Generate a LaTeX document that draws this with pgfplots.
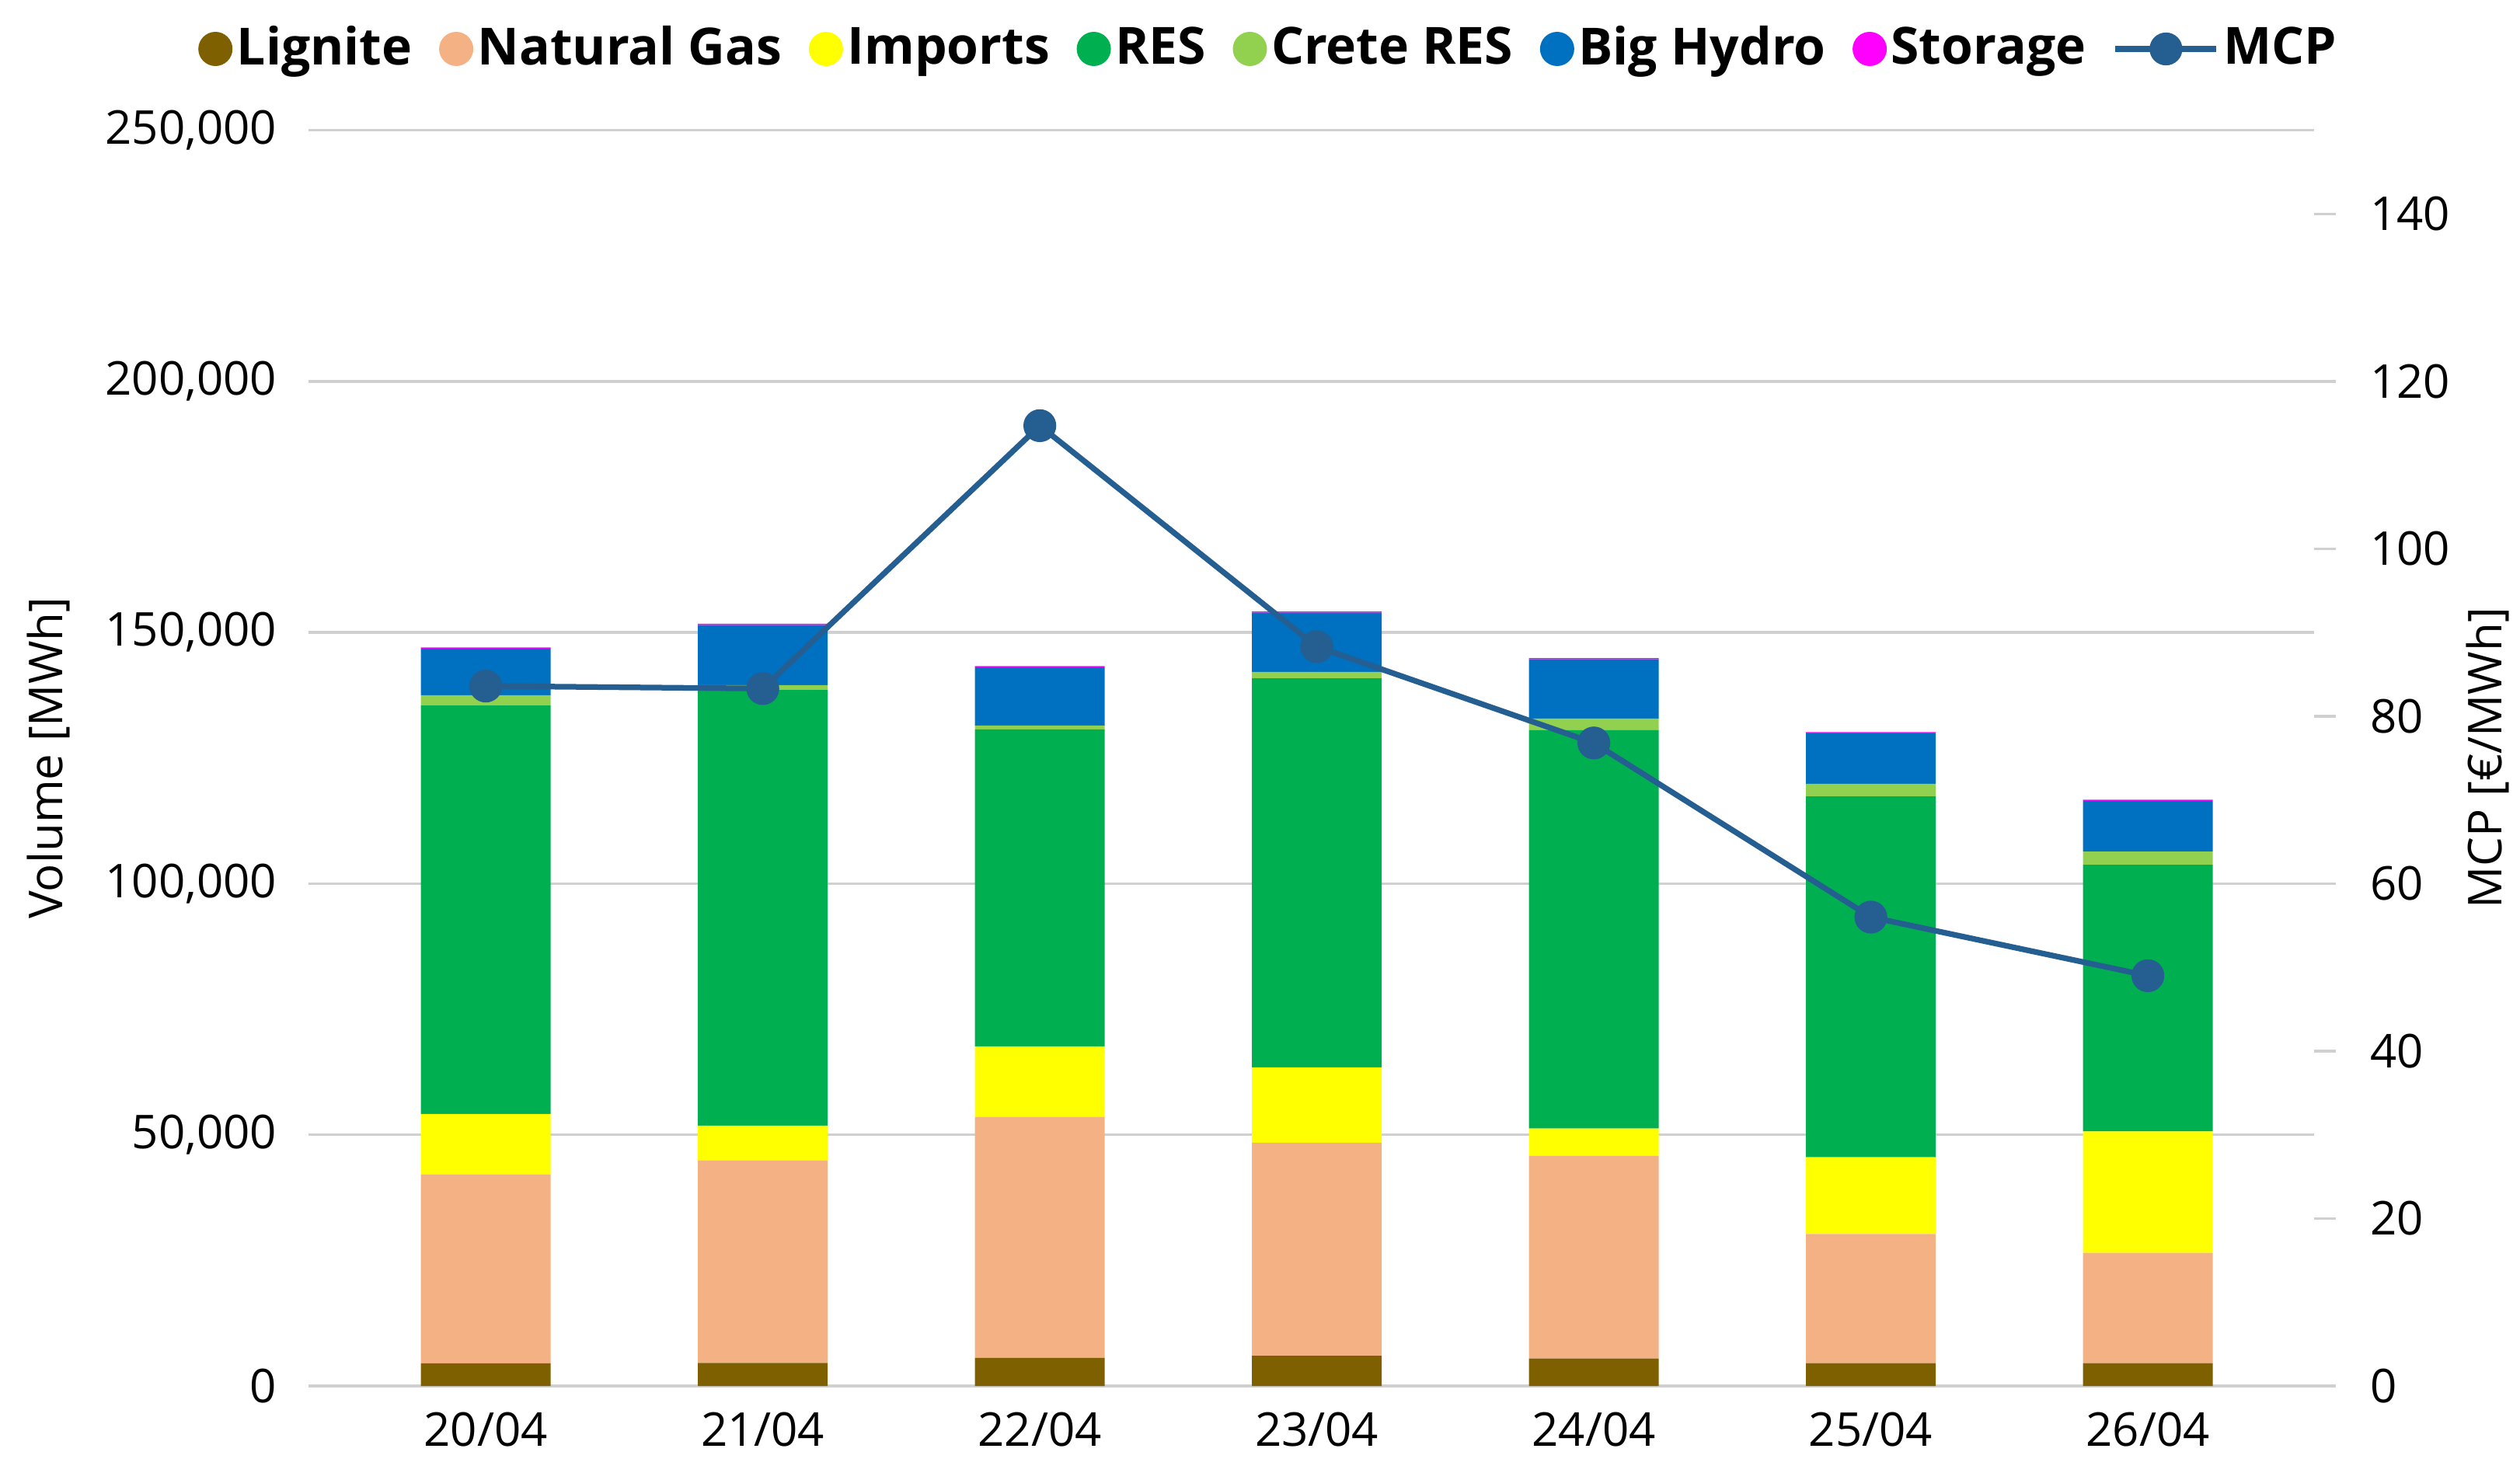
\documentclass[border=0pt]{standalone}
\usepackage{pgfplots}
\usepackage{pgfplotstable}
\pgfplotsset{compat=1.18}
\usepackage{fontspec}
\setmainfont{Open Sans}
\definecolor{lignite}{HTML}{7F6000}
\definecolor{ngas}{HTML}{F4B183}
\definecolor{imports}{HTML}{FFFF00}
\definecolor{res}{HTML}{00B050}
\definecolor{creteres}{HTML}{92D050}
\definecolor{hydro}{HTML}{0070C0}
\definecolor{storage}{HTML}{FF00FF}
\definecolor{mcp}{HTML}{255E91}
\definecolor{gridgray}{HTML}{D0D0D0}

\pgfplotsset{mcplegend/.style={legend image code/.code={\draw[mark repeat=2,mark phase=2,##1] plot coordinates {(0pt,0pt) (13pt,0pt) (26pt,0pt)};}}}

\pgfplotstableread{
x  L     NG    Imp   RES   Crete Hydro Sto
0  4500  37620 12010 81340 2020  9290  250
1  4600  40300 6910  86760 930   11970 250
2  5570  47990 14030 63100 770   11610 250
3  6030  42380 15000 77480 1240  11810 250
4  5460  40370 5410  79290 2320  11810 250
5  4540  25720 15260 71860 2480  10060 250
6  4540  21960 24180 53090 2630  10060 250
}\bars

\pgfplotstableread{
x  mcp
0  83.6
1  83.3
2  114.7
3  88.3
4  76.8
5  56.0
6  49.0
}\prices

\begin{document}
\fontsize{12}{14}\selectfont
\begin{tikzpicture}
\useasboundingbox (-79.4pt,-18.6pt) rectangle (569.2pt,356.8pt);
\begin{axis}[
  at={(0,0)}, anchor=south west,
  width=516.2pt, height=323.3pt, scale only axis,
  ybar stacked, bar width=33.4pt,
  xmin=-0.64, xmax=6.6,
  ymin=0, ymax=250000,
  xtick={0,...,6},
  xticklabels={20/04,21/04,22/04,23/04,24/04,25/04,26/04},
  ytick={0,50000,100000,150000,200000,250000},
  scaled y ticks=false,
  yticklabel={\pgfmathprintnumber[fixed,precision=0,1000 sep={,},assume math mode=true]{\tick}},
  ymajorgrids,
  grid style={draw=gridgray, line width=0.7pt},
  axis line style={draw=none},
  tick style={draw=none},
  yticklabel style={xshift=-4pt},
  xticklabel style={yshift=-2.6pt},
  ylabel={Volume [MWh]},
  ylabel style={at={(axis description cs:-0.1298,0.5)}, anchor=center},
]
\addplot[fill=lignite, draw=none] table[x=x, y=L] {\bars};
\addplot[fill=ngas, draw=none] table[x=x, y=NG] {\bars};
\addplot[fill=imports, draw=none] table[x=x, y=Imp] {\bars};
\addplot[fill=res, draw=none] table[x=x, y=RES] {\bars};
\addplot[fill=creteres, draw=none] table[x=x, y=Crete] {\bars};
\addplot[fill=hydro, draw=none] table[x=x, y=Hydro] {\bars};
\addplot[fill=storage, draw=none] table[x=x, y=Sto] {\bars};
\end{axis}
\begin{axis}[
  at={(0,0)}, anchor=south west,
  width=516.2pt, height=323.3pt, scale only axis,
  xmin=-0.64, xmax=6.6,
  ymin=0, ymax=150,
  axis x line=none,
  axis y line*=right,
  axis line style={draw=none},
  ytick={0,20,40,60,80,100,120,140},
  yticklabel={\pgfmathprintnumber[fixed,precision=0,assume math mode=true]{\tick}},
  tick align=outside,
  major tick length=5.6pt,
  ytick style={draw=gridgray, line width=0.7pt},
  yticklabel style={xshift=4.6pt},
  ylabel={MCP [€/MWh]},
  ylabel style={at={(axis description cs:1.0864,0.5)}, anchor=center},
  clip=false,
  legend style={at={(0.5,1)}, anchor=center, xshift=-10.7pt, yshift=20.9pt,
    legend columns=-1, draw=none, fill=none, font=\fontsize{13.2}{15}\selectfont\bfseries,
    /tikz/every even column/.append style={column sep=5.8pt},
    nodes={inner xsep=1.1pt}},
]
\addlegendimage{legend image code/.code={\fill[lignite] (4pt,0pt) circle (4.2pt);}}
\addlegendentry{Lignite}
\addlegendimage{legend image code/.code={\fill[ngas] (4pt,0pt) circle (4.2pt);}}
\addlegendentry{Natural Gas}
\addlegendimage{legend image code/.code={\fill[imports] (4pt,0pt) circle (4.2pt);}}
\addlegendentry{Imports}
\addlegendimage{legend image code/.code={\fill[res] (4pt,0pt) circle (4.2pt);}}
\addlegendentry{RES}
\addlegendimage{legend image code/.code={\fill[creteres] (4pt,0pt) circle (4.2pt);}}
\addlegendentry{Crete RES}
\addlegendimage{legend image code/.code={\fill[hydro] (4pt,0pt) circle (4.2pt);}}
\addlegendentry{Big Hydro}
\addlegendimage{legend image code/.code={\fill[storage] (4pt,0pt) circle (4.2pt);}}
\addlegendentry{Storage}
\addplot[color=mcp, line width=1.45pt, mark=*, mark size=3.5pt,
  mark options={fill=mcp, draw=mcp}, mcplegend]
  table[x=x, y=mcp] {\prices};
\addlegendentry{MCP}
\end{axis}
\end{tikzpicture}
\end{document}
